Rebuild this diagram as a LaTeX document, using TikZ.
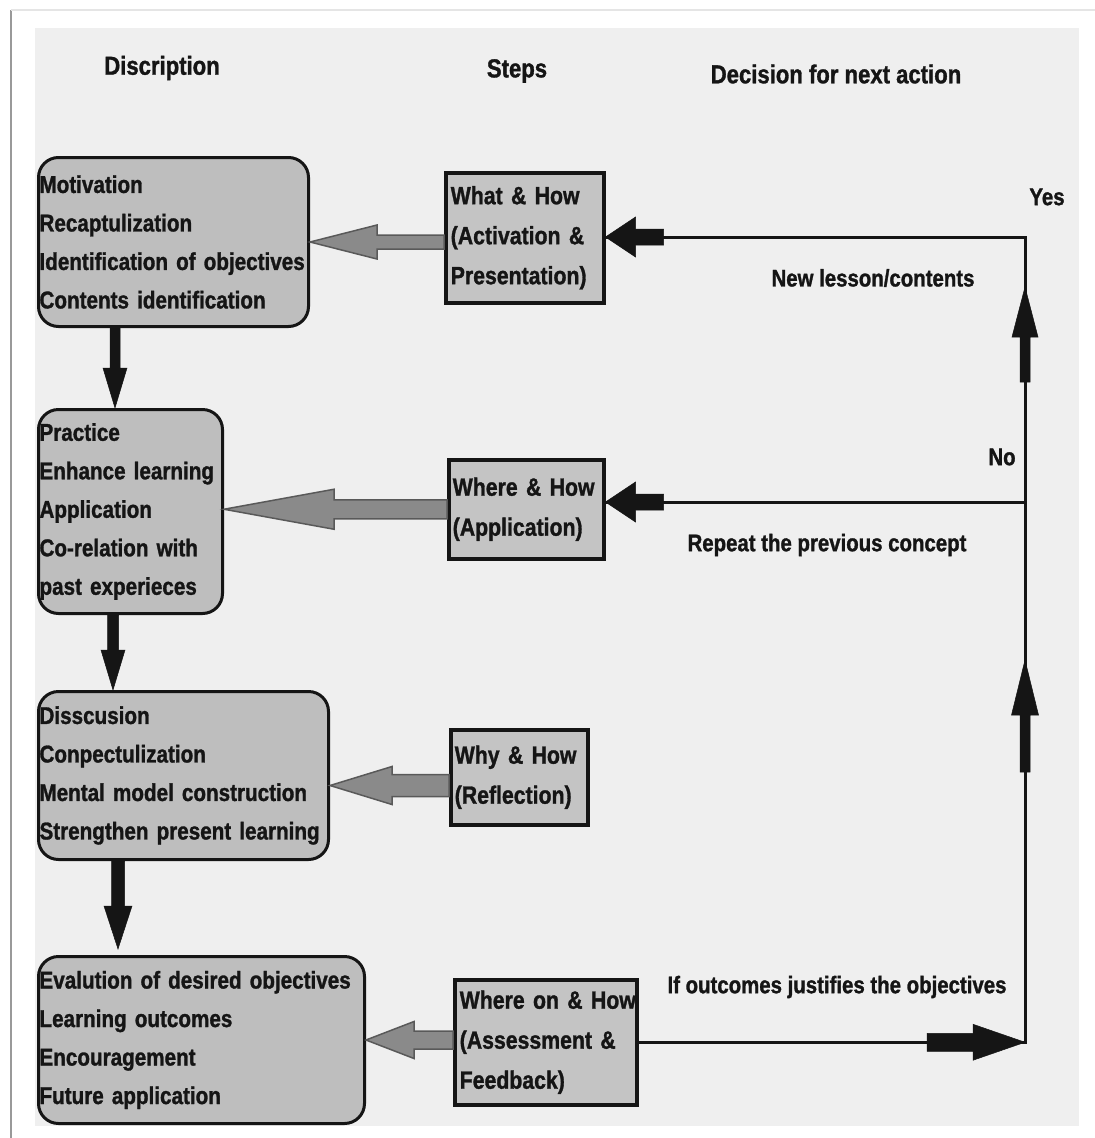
\documentclass[tikz,border=0pt]{standalone}
\usepackage{fontspec}
\setmainfont{Liberation Sans}[FakeStretch=0.85,FakeBold=1.2]
\usetikzlibrary{calc}
\definecolor{panelgray}{HTML}{EFEFEF}
\definecolor{boxgray}{HTML}{BEBEBE}
\definecolor{stepgray}{HTML}{C4C4C4}
\definecolor{arrgray}{HTML}{8A8A8A}
\definecolor{inkc}{HTML}{151515}
% #1 style, #2 tail, #3 tip, #4 head length, #5 head half width, #6 shaft half width
\newcommand\blockarr[6]{%
  \coordinate (hb) at ($(#3)!#4!(#2)$);
  \path[#1] ($(#2)!#6!90:(#3)$) -- ($(hb)!#6!90:(#3)$) -- ($(hb)!#5!90:(#3)$) -- (#3)
    -- ($(hb)!#5!-90:(#3)$) -- ($(hb)!#6!-90:(#3)$) -- ($(#2)!#6!-90:(#3)$) -- cycle;}
\newcommand\Ln[1]{\mbox{#1}}
\begin{document}
\begin{tikzpicture}[x=1pt,y=-1pt,
  hdr/.style={font=\fontsize{26}{30}\selectfont\bfseries, text=inkc, inner sep=0pt},
  lbl/.style={font=\fontsize{24}{28}\selectfont\bfseries, text=inkc, inner sep=0pt},
  descbox/.style={draw=inkc, line width=3pt, fill=boxgray, rounded corners=20pt, anchor=north west,
    inner xsep=1pt, inner ysep=0pt, font=\fontsize{24.3}{38.5}\selectfont\bfseries, text=inkc, align=left},
  stepbox/.style={draw=inkc, line width=3.5pt, fill=stepgray, anchor=north west,
    inner xsep=5pt, inner ysep=0pt, font=\fontsize{25}{40}\selectfont\bfseries, text=inkc, align=left},
  grayarr/.style={fill=arrgray, draw=black!65, line width=1.5pt, line join=miter},
  blackarr/.style={fill=inkc, draw=inkc, line width=0.5pt},
  conn/.style={draw=inkc, line width=3pt}
]
\useasboundingbox (0,0) rectangle (1095,1138);
\fill[white] (0,0) rectangle (1095,1138);
\fill[panelgray] (35,28) rectangle (1079,1126);
\draw[black!40, line width=2pt] (11,10) -- (11,1138);
\draw[black!10, line width=1.5pt] (11,10) -- (1095,10);

% headers
\node[hdr] (h1) at (162,68) {Discription};
\node[hdr] (h2) at (517,71) {Steps};
\node[hdr] (h3) at (836,74) {Decision for next action};

% description boxes
\node[descbox, minimum height=169pt, text width=268pt] (b1) at (37,156)
  {\Ln{Motivation}\\\Ln{Recaptulization}\\\Ln{Identification of objectives}\\\Ln{Contents identification}};
\node[descbox, minimum height=204pt, text width=182pt] (b2) at (37,408)
  {\Ln{Practice}\\\Ln{Enhance learning}\\\Ln{Application}\\\Ln{Co-relation with}\\\Ln{past experieces}};
\node[descbox, minimum height=168pt, text width=288pt] (b3) at (37,690)
  {\Ln{Disscusion}\\\Ln{Conpectulization}\\\Ln{Mental model construction}\\\Ln{Strengthen present learning}};
\node[descbox, minimum height=167pt, text width=324pt] (b4) at (37,955)
  {\Ln{Evalution of desired objectives}\\\Ln{Learning outcomes}\\\Ln{Encouragement}\\\Ln{Future application}};

% step boxes
\node[stepbox, minimum height=130pt, text width=148pt] (s1) at (444,171)
  {\Ln{What \& How}\\\Ln{(Activation \&}\\\Ln{Presentation)}};
\node[stepbox, inner xsep=4pt, minimum height=99pt, text width=147pt] (s2) at (447,458)
  {\Ln{Where \& How}\\\Ln{(Application)}};
\node[stepbox, inner xsep=4pt, minimum height=95pt, text width=129pt] (s3) at (449,728)
  {\Ln{Why \& How}\\\Ln{(Reflection)}};
\node[stepbox, minimum height=125pt, text width=172pt] (s4) at (453,978)
  {\Ln{Where on \& How}\\\Ln{(Assessment \&}\\\Ln{Feedback)}};

% labels
\node[lbl] (yes) at (1047,197) {Yes};
\node[lbl] (nl) at (873,278) {New lesson/contents};
\node[lbl] (no) at (1002,457) {No};
\node[lbl] (rp) at (827,545) {Repeat the previous concept};
\node[lbl] (io) at (837,987) {If outcomes justifies the objectives};

% right loop
\coordinate (r1) at (1025,237);
\coordinate (r2) at (1025,502);
\coordinate (r4) at (s4.east -| r1);
\coordinate (t1) at (s1.east |- r1);
\coordinate (t2) at (s2.east |- r2);
\draw[conn] (t1) -- (r1) -- (r4) -- (s4.east);
\draw[conn] (r2) -- (t2);

% black arrows into steps
\coordinate (k1) at ($(t1)!58pt!(r1)$);
\blockarr{blackarr}{k1}{t1}{30pt}{20pt}{8pt}
\coordinate (k2) at ($(t2)!58pt!(r2)$);
\blockarr{blackarr}{k2}{t2}{30pt}{20pt}{8pt}
% black arrow to the right
\coordinate (k4) at ($(r4)!98pt!(s4.east)$);
\blockarr{blackarr}{k4}{r4}{52pt}{18pt}{9pt}
% up arrows
\coordinate (u1a) at (1025,382);
\coordinate (u1b) at (1025,287);
\blockarr{blackarr}{u1a}{u1b}{50pt}{13pt}{5pt}
\coordinate (u2a) at (1025,772);
\coordinate (u2b) at (1025,660);
\blockarr{blackarr}{u2a}{u2b}{55pt}{13.5pt}{5pt}

% down arrows between description boxes
\coordinate (d1a) at ($(b1.south west)+(78,0)$);
\coordinate (d1b) at (d1a |- b2.north);
\blockarr{blackarr}{d1a}{d1b}{40pt}{12pt}{5pt}
\coordinate (d2a) at ($(b2.south west)+(76,0)$);
\coordinate (d2b) at (d2a |- b3.north);
\blockarr{blackarr}{d2a}{d2b}{40pt}{12pt}{5.5pt}
\coordinate (d3a) at ($(b3.south west)+(81,0)$);
\coordinate (d3b) at ($(d3a |- b4.north)+(0,-6)$);
\blockarr{blackarr}{d3a}{d3b}{43pt}{14pt}{6.5pt}

% gray arrows from steps to descriptions
\coordinate (g1b) at (b1.east);
\coordinate (g1a) at (s1.west |- g1b);
\blockarr{grayarr}{g1a}{g1b}{67pt}{17pt}{7pt}
\coordinate (g2b) at (b2.east |- s2.west);
\coordinate (g2a) at (s2.west);
\blockarr{grayarr}{g2a}{g2b}{110pt}{20pt}{9.5pt}
\coordinate (g3b) at ($(b3.east)+(0,10)$);
\coordinate (g3a) at (s3.west |- g3b);
\blockarr{grayarr}{g3a}{g3b}{62pt}{19pt}{11pt}
\coordinate (g4b) at (b4.east);
\coordinate (g4a) at (s4.west |- g4b);
\blockarr{grayarr}{g4a}{g4b}{48pt}{18.5pt}{9pt}
\end{tikzpicture}
\end{document}
